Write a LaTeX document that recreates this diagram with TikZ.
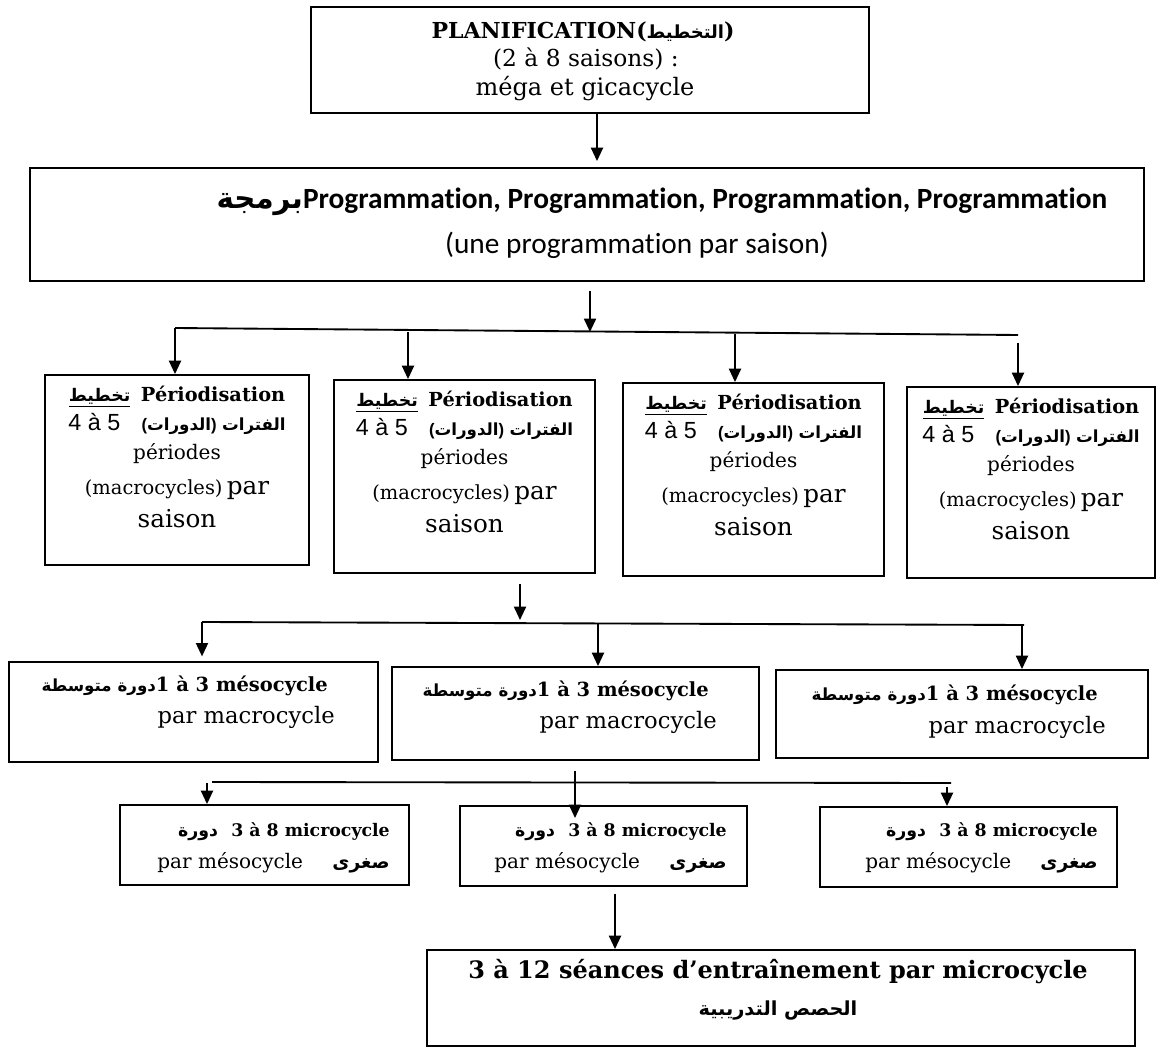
\documentclass[tikz,border=0pt]{standalone}
\usepackage{fontspec}
\setmainfont{DejaVu Serif}
\newfontfamily\arfont[Script=Arabic]{DejaVu Sans}
\newfontfamily\calfont[Ligatures=NoCommon]{Carlito}
\newfontfamily\arialfont{Liberation Sans}
\TeXXeTstate=1
\usetikzlibrary{arrows.meta,fit}
\newcommand\fz[1]{\fontsize{#1}{#1}\selectfont}
\newcommand\arb[1]{\arfont\bfseries\fz{#1}}
\newcommand\perbox[5]{%
  \node[box,fit={(#2,#3)(#4,#5)}] (#1) {};
  \path (#1.north) ++(0,24) node[txt] (#1a) {\underline{\arb{13}\beginR تخطيط\endR}\hspace{8pt}{\fz{14.5}\bfseries Périodisation}};
  \path (#1.north) ++(0,53) node[txt] (#1b) {{\arialfont\fz{17.5}4 à 5}\hspace{16pt}{\arialfont\bfseries\fz{12.5}(}{\arb{12.5}\beginR الدورات\endR}{\arialfont\bfseries\fz{12.5})}\hspace{4pt}{\arb{12.5}\beginR الفترات\endR}};
  \path (#1.north) ++(0,82) node[txt] (#1c) {\fz{15}périodes};
  \path (#1.north) ++(0,117) node[txt] (#1d) {{\fz{14.6}(macrocycles)} {\fz{18.5}par}};
  \path (#1.north) ++(0,150) node[txt] (#1e) {\fz{18.5}saison};
}
\begin{document}
\begin{tikzpicture}[x=0.75pt,y=-0.75pt,
  box/.style={draw,line width=1.4pt,inner sep=0pt},
  txt/.style={inner sep=0pt,anchor=mid},
  ln/.style={line width=1.4pt},
  arr/.style={line width=1.4pt,-{Triangle[length=10pt,width=9pt]}}]
\useasboundingbox (0,0) rectangle (1161,1048);

% top box
\node[box,fit={(311,7)(869,113)}] (plan) {};
\node[txt] (plan1) at (583,35) {\fz{16.5}\bfseries PLANIFICATION({\arb{13.5}\beginR التخطيط\endR})};
\node[txt] (plan2) at (586,63) {\fz{17.5}(2 à 8 saisons) :};
\node[txt] (plan3) at (585,92) {\fz{18}méga et gicacycle};

% programmation
\node[box,fit={(30,168)(1144,281)}] (prog) {};
\node[txt] (prog1) at (662,205) {{\arb{22}\beginR برمجة\endR}{\calfont\bfseries\fz{22}Programmation, Programmation, Programmation, Programmation}};
\node[txt] (prog2) at (637,250) {\calfont\fz{22}(une programmation par saison)};

% periodisation
\perbox{per1}{45}{375}{309}{565}
\perbox{per2}{334}{380}{595}{573}
\perbox{per3}{623}{383}{884}{576}
\perbox{per4}{907}{387}{1155}{578}

% mesocycles
\node[box,fit={(9,662)(378,762)}] (meso1) {};
\node[txt,anchor=mid east] (meso1a) at (328,688) {{\arb{12.5}\beginR دورة متوسطة\endR}{\fz{14.6}\bfseries 1 à 3 mésocycle}};
\node[txt,anchor=mid east] (meso1b) at (335,720) {\fz{17}par macrocycle};
\node[box,fit={(392,667)(759,760)}] (meso2) {};
\node[txt,anchor=mid east] (meso2a) at (709,693) {{\arb{12.5}\beginR دورة متوسطة\endR}{\fz{14.6}\bfseries 1 à 3 mésocycle}};
\node[txt,anchor=mid east] (meso2b) at (717,725) {\fz{17}par macrocycle};
\node[box,fit={(776,670)(1148,758)}] (meso3) {};
\node[txt,anchor=mid east] (meso3a) at (1098,697) {{\arb{12.5}\beginR دورة متوسطة\endR}{\fz{14.6}\bfseries 1 à 3 mésocycle}};
\node[txt,anchor=mid east] (meso3b) at (1106,730) {\fz{17}par macrocycle};

% microcycles
\node[box,fit={(120,805)(409,885)}] (micro1) {};
\node[txt,anchor=mid east] (micro1a) at (390,833) {{\arb{13}\beginR دورة\endR}\hspace{10pt}{\fz{13}\bfseries 3 à 8 microcycle}};
\node[txt,anchor=mid east] (micro1b) at (390,865) {{\fz{15}par mésocycle}\hspace{22pt}{\arb{14}\beginR صغرى\endR}};
\node[box,fit={(460,806)(747,886)}] (micro2) {};
\node[txt,anchor=mid east] (micro2a) at (727,833) {{\arb{13}\beginR دورة\endR}\hspace{10pt}{\fz{13}\bfseries 3 à 8 microcycle}};
\node[txt,anchor=mid east] (micro2b) at (727,865) {{\fz{15}par mésocycle}\hspace{22pt}{\arb{14}\beginR صغرى\endR}};
\node[box,fit={(820,807)(1117,887)}] (micro3) {};
\node[txt,anchor=mid east] (micro3a) at (1098,833) {{\arb{13}\beginR دورة\endR}\hspace{10pt}{\fz{13}\bfseries 3 à 8 microcycle}};
\node[txt,anchor=mid east] (micro3b) at (1098,865) {{\fz{15}par mésocycle}\hspace{22pt}{\arb{14}\beginR صغرى\endR}};

% seances
\node[box,fit={(427,950)(1135,1046)}] (seance) {};
\node[txt] (seance1) at (778,975) {\fz{18}\bfseries 3 à 12 séances d’entraînement par microcycle};
\node[txt] (seance2) at (778,1012) {{\arb{14.5}\beginR الحصص التدريبية\endR}};

% connectors
\coordinate (x0) at (597,0);
\draw[arr] (x0 |- plan.south) -- ([yshift=4.5pt]x0 |- prog.north);

\coordinate (h1a) at (175,328);
\coordinate (h1b) at (1018,335);
\draw[ln] (h1a) -- (h1b);
\coordinate (j1) at (590,332);
\draw[arr,shorten <=6.75pt] (j1 |- prog.south) -- (j1);
\coordinate (c1) at (175,328);
\coordinate (c2) at (408,332);
\coordinate (c3) at (735,334);
\coordinate (c4) at (1018,343);
\draw[arr] (c1) -- (c1 |- per1.north);
\draw[arr] (c2) -- (c2 |- per2.north);
\draw[arr] (c3) -- (c3 |- per3.north);
\draw[arr] (c4) -- (c4 |- per4.north);

\coordinate (h2a) at (202,622);
\coordinate (h2b) at (1024,625);
\draw[ln] (h2a) -- (h2b);
\coordinate (m0) at (520,620);
\draw[arr,shorten <=7.5pt] (m0 |- per2.south) -- (m0);
\coordinate (d1) at (202,622);
\coordinate (d2) at (598,623);
\coordinate (d3) at (1022,625);
\draw[arr,shorten >=3.5pt] (d1) -- (d1 |- meso1.north);
\draw[arr] (d2) -- (d2 |- meso2.north);
\draw[arr] (d3) -- (d3 |- meso3.north);

\coordinate (h3a) at (212,782);
\coordinate (h3b) at (951,783);
\draw[ln] (h3a) -- (h3b);
\coordinate (n0) at (575,818);
\draw[arr,shorten <=7.5pt] (n0 |- meso2.south) -- (n0);
\coordinate (e1) at (207,783);
\coordinate (e3) at (947,787);
\draw[arr] (e1) -- (e1 |- micro1.north);
\draw[arr] (e3) -- (e3 |- micro3.north);

\coordinate (b0) at (615,948);
\draw[arr,shorten <=5pt] (b0 |- micro2.south) -- (b0 |- seance.north);
\end{tikzpicture}
\end{document}
